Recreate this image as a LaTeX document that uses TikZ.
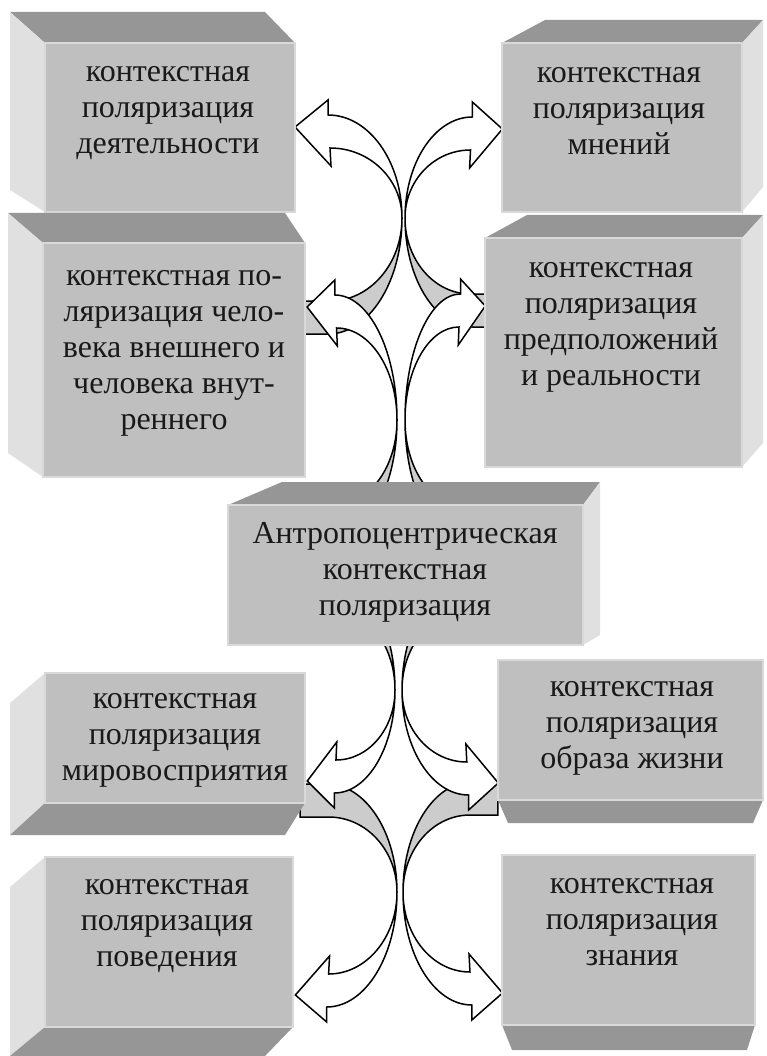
\documentclass[tikz,border=0pt]{standalone}
\usepackage{fontspec}
\setmainfont{Liberation Serif}
\tikzset{
  darkface/.style={fill=black!41},
  lightface/.style={fill=black!12},
  frontface/.style={fill=black!25,draw=black!15,line width=1.2pt},
  headpart/.style={fill=white,draw=black,line width=1.5pt},
  tailpart/.style={fill=black!20,draw=black,line width=1.5pt},
  boxtext/.style={align=center,text=black!90,font=\fontsize{32}{36}\selectfont}
}
\newcommand{\bentarrow}[3]{%
  \begin{scope}[#1]
    \filldraw[tailpart] (0,0) .. controls (0,{-0.55*(#3+17)}) and (-33,{-(#3+17)}) .. (-74,{-(#3+17)})
      -- (-102,{-(#3+17)}) -- (-102,{-(#3-16)}) -- (-72,{-(#3-16)})
      .. controls (-32,{-(#3-16)}) and (0,{-0.55*(#3-16)}) .. cycle;
    \filldraw[headpart] (-74,{#2+18}) .. controls (-33,{#2+18}) and (0,{0.55*(#2+18)}) .. (0,0)
      .. controls (0,{0.55*(#2-15)}) and (-32,{#2-15}) .. (-72,{#2-15})
      -- (-71,{#2-33}) -- (-107,{#2+6}) -- (-74,{#2+33}) -- cycle;
  \end{scope}}

\begin{document}
\begin{tikzpicture}[x=1pt,y=-1pt]
    \useasboundingbox (0,0) rectangle (766,1056);
    \bentarrow{shift={(402,218)},yscale=-1}{85}{99}
    \bentarrow{shift={(405,218)},yscale=-1,xscale=-0.91}{83}{92}
    \bentarrow{shift={(397,420)},yscale=-1,xscale=0.84}{107}{100}
    \bentarrow{shift={(405,420)},yscale=-1,xscale=-0.75}{108}{100}
    \bentarrow{shift={(397,892)},xscale=0.95}{97}{91}
    \bentarrow{shift={(403,892)},xscale=-0.93}{95}{93}
    \bentarrow{shift={(395,690)},xscale=0.82}{85}{95}
    \bentarrow{shift={(402,690)},xscale=-0.9}{87}{95}

    \fill[darkface] (10,12) -- (265,12) -- (295,43) -- (45,43) -- cycle;
    \fill[lightface] (10,12) -- (45,43) -- (45,212) -- (10,190) -- cycle;
    \filldraw[frontface] (45,43) rectangle (295,212);
    \node[boxtext] (activity) at (168,113) {контекстная\\поляризация\\деятельности};

    \fill[darkface] (502,43) -- (545,20) -- (763,20) -- (742,43) -- cycle;
    \fill[lightface] (742,43) -- (763,20) -- (763,187) -- (742,212) -- cycle;
    \filldraw[frontface] (502,43) rectangle (742,212);
    \node[boxtext] (opinions) at (619,111) {контекстная\\поляризация\\мнений};

    \fill[darkface] (8,213) -- (285,213) -- (305,243) -- (43,243) -- cycle;
    \fill[lightface] (8,213) -- (43,243) -- (43,477) -- (8,453) -- cycle;
    \filldraw[frontface] (43,243) rectangle (305,477);
    \node[boxtext] (person) at (174,353) {контекстная по-\\ляризация чело-\\века внешнего и\\человека внут-\\реннего};

    \fill[darkface] (485,238) -- (527,215) -- (763,215) -- (742,238) -- cycle;
    \fill[lightface] (742,238) -- (763,215) -- (763,443) -- (742,467) -- cycle;
    \filldraw[frontface] (485,238) rectangle (742,467);
    \node[boxtext] (reality) at (611,327) {контекстная\\поляризация\\предположений\\и реальности};

    \fill[darkface] (228,505) -- (282,482) -- (600,482) -- (583,505) -- cycle;
    \fill[lightface] (583,505) -- (600,482) -- (600,635) -- (583,645) -- cycle;
    \filldraw[frontface] (228,505) rectangle (583,645);
    \node[boxtext] (anthro) at (405,572) {Антропоцентрическая\\контекстная\\поляризация};

    \fill[lightface] (10,703) -- (45,673) -- (45,803) -- (10,835) -- cycle;
    \fill[darkface] (45,803) -- (305,803) -- (285,835) -- (10,835) -- cycle;
    \filldraw[frontface] (45,673) rectangle (305,803);
    \node[boxtext] (worldview) at (175,740) {контекстная\\поляризация\\мировосприятия};

    \fill[darkface] (498,800) -- (763,800) -- (753,823) -- (508,823) -- cycle;
    \filldraw[frontface] (498,660) rectangle (763,800);
    \node[boxtext] (lifestyle) at (632,728) {контекстная\\поляризация\\образа жизни};

    \fill[lightface] (10,887) -- (45,857) -- (45,1027) -- (10,1056) -- cycle;
    \fill[darkface] (45,1027) -- (293,1027) -- (265,1056) -- (10,1056) -- cycle;
    \filldraw[frontface] (45,857) rectangle (293,1027);
    \node[boxtext] (behaviour) at (167,926) {контекстная\\поляризация\\поведения};

    \fill[darkface] (502,1025) -- (755,1025) -- (747,1050) -- (512,1050) -- cycle;
    \filldraw[frontface] (502,855) rectangle (755,1025);
    \node[boxtext] (knowledge) at (632,922) {контекстная\\поляризация\\знания};
\end{tikzpicture}
\end{document}
